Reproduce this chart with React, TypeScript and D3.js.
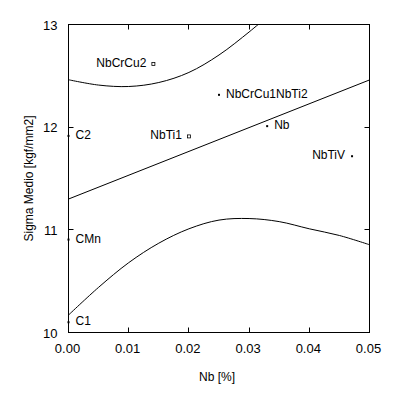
import React, { useRef, useEffect } from "react";
import * as d3 from "d3";

// Nb [%] vs Sigma Medio [kgf/mm2]
const xTicks = [0, 0.01, 0.02, 0.03, 0.04, 0.05];
const yTicks = [10, 11, 12, 13];

const pointNames = ["NbCrCu2", "C2", "NbTi1", "NbCrCu1NbTi2", "Nb", "NbTiV", "CMn", "C1"];
const pointX = [0.0141, 0, 0.0200, 0.0250, 0.0330, 0.0471, 0, 0];
const pointY = [12.615, 11.915, 11.91, 12.315, 12.01, 11.717, 10.905, 10.10];
// label on the left (-1) or right (1) side of its point
const labelSide = [-1, 1, -1, 1, 1, -1, 1, 1];
const hollow = [true, false, true, false, false, false, false, false];

// regression line and the two bounding curves
const fitX = [0, 0.05];
const fitY = [11.3, 12.46];
const upperX = [0, 0.005, 0.01, 0.015, 0.02, 0.025, 0.03, 0.0325];
const upperY = [12.462, 12.41, 12.396, 12.435, 12.533, 12.703, 12.927, 13.05];
const lowerX = [0, 0.005, 0.01, 0.015, 0.02, 0.025, 0.03, 0.035, 0.04, 0.045, 0.05];
const lowerY = [10.17, 10.44, 10.68, 10.87, 11.01, 11.095, 11.11, 11.08, 11.01, 10.945, 10.855];

const W = 397;
const H = 397;
const margin = { left: 68.5, top: 24.5, right: 28, bottom: 65 };

const App = () => {
  const svgRef = useRef<SVGSVGElement>(null);

  useEffect(() => {
    const width = 301;
    const height = 308;
    const xScale = d3.scaleLinear().domain([0, 0.05]).range([0, width]);
    const yScale = d3.scaleLinear().domain([10, 13]).range([height, 0]);

    const svgEl = d3.select(svgRef.current);
    svgEl.selectAll("*").remove();
    svgEl.append("rect").attr("width", W).attr("height", H).attr("fill", "#fff");

    svgEl
      .append("defs")
      .append("clipPath")
      .attr("id", "plotclip")
      .append("rect")
      .attr("width", width)
      .attr("height", height);

    const svg = svgEl
      .append("g")
      .attr("transform", `translate(${margin.left},${margin.top})`);

    const font = "Arial, 'Liberation Sans', sans-serif";

    // frame
    svg
      .append("rect")
      .attr("width", width)
      .attr("height", height)
      .attr("fill", "none")
      .attr("stroke", "#000")
      .attr("stroke-width", 1);

    // inward ticks, all four sides
    const tl = 5;
    xTicks.slice(1, -1).forEach((t) => {
      const x = Math.round(xScale(t));
      svg.append("line").attr("x1", x).attr("x2", x).attr("y1", height).attr("y2", height - tl).attr("stroke", "#000");
      svg.append("line").attr("x1", x).attr("x2", x).attr("y1", 0).attr("y2", tl).attr("stroke", "#000");
    });
    yTicks.slice(1, -1).forEach((t) => {
      const y = Math.round(yScale(t));
      svg.append("line").attr("x1", 0).attr("x2", tl).attr("y1", y).attr("y2", y).attr("stroke", "#000");
      svg.append("line").attr("x1", width).attr("x2", width - tl).attr("y1", y).attr("y2", y).attr("stroke", "#000");
    });

    // tick labels
    svg
      .selectAll(".xt")
      .data(xTicks)
      .enter()
      .append("text")
      .attr("x", (d) => xScale(d) - 1)
      .attr("y", height + 20)
      .attr("text-anchor", "middle")
      .attr("font-family", font)
      .attr("font-size", 13)
      .text((d) => d3.format(".2f")(d));
    svg
      .selectAll(".yt")
      .data(yTicks)
      .enter()
      .append("text")
      .attr("x", -11)
      .attr("y", (d) => yScale(d) + 5)
      .attr("text-anchor", "end")
      .attr("font-family", font)
      .attr("font-size", 13)
      .text((d) => `${d}`);

    // axis titles
    svg
      .append("text")
      .attr("x", width / 2 - 2)
      .attr("y", height + 48)
      .attr("text-anchor", "middle")
      .attr("font-family", font)
      .attr("font-size", 12)
      .text("Nb [%]");
    svg
      .append("text")
      .attr("transform", `translate(${-36},${height / 2}) rotate(-90)`)
      .attr("text-anchor", "middle")
      .attr("font-family", font)
      .attr("font-size", 12)
      .text("Sigma Medio [kgf/mm2]");

    // curves
    const line = d3
      .line<[number, number]>()
      .x((d) => xScale(d[0]))
      .y((d) => yScale(d[1]))
      .curve(d3.curveCatmullRom);
    const curves: [number[], number[]][] = [
      [fitX, fitY],
      [upperX, upperY],
      [lowerX, lowerY],
    ];
    const plot = svg.append("g").attr("clip-path", "url(#plotclip)");
    curves.forEach(([xs, ys]) => {
      plot
        .append("path")
        .attr("fill", "none")
        .attr("stroke", "#000")
        .attr("stroke-width", 1)
        .attr("d", line(xs.map((x, i) => [x, ys[i]] as [number, number])));
    });

    // points + labels
    pointNames.forEach((name, i) => {
      const px = xScale(pointX[i]);
      const py = yScale(pointY[i]);
      if (hollow[i]) {
        svg
          .append("rect")
          .attr("x", px - 1.5)
          .attr("y", py - 1.5)
          .attr("width", 3)
          .attr("height", 3)
          .attr("fill", "#fff")
          .attr("stroke", "#000")
          .attr("stroke-width", 0.8);
      } else {
        svg
          .append("rect")
          .attr("x", px - 1)
          .attr("y", py - 1)
          .attr("width", 2)
          .attr("height", 2)
          .attr("fill", "#000");
      }
      svg
        .append("text")
        .attr("x", px + labelSide[i] * 7)
        .attr("y", py + 3)
        .attr("text-anchor", labelSide[i] < 0 ? "end" : "start")
        .attr("font-family", font)
        .attr("font-size", 12)
        .text(name);
    });
  }, []);

  return (
    <svg
      ref={svgRef}
      width={W}
      height={H}
      style={{ position: "absolute", left: 0, top: 0, display: "block" }}
    />
  );
};

export default App;
